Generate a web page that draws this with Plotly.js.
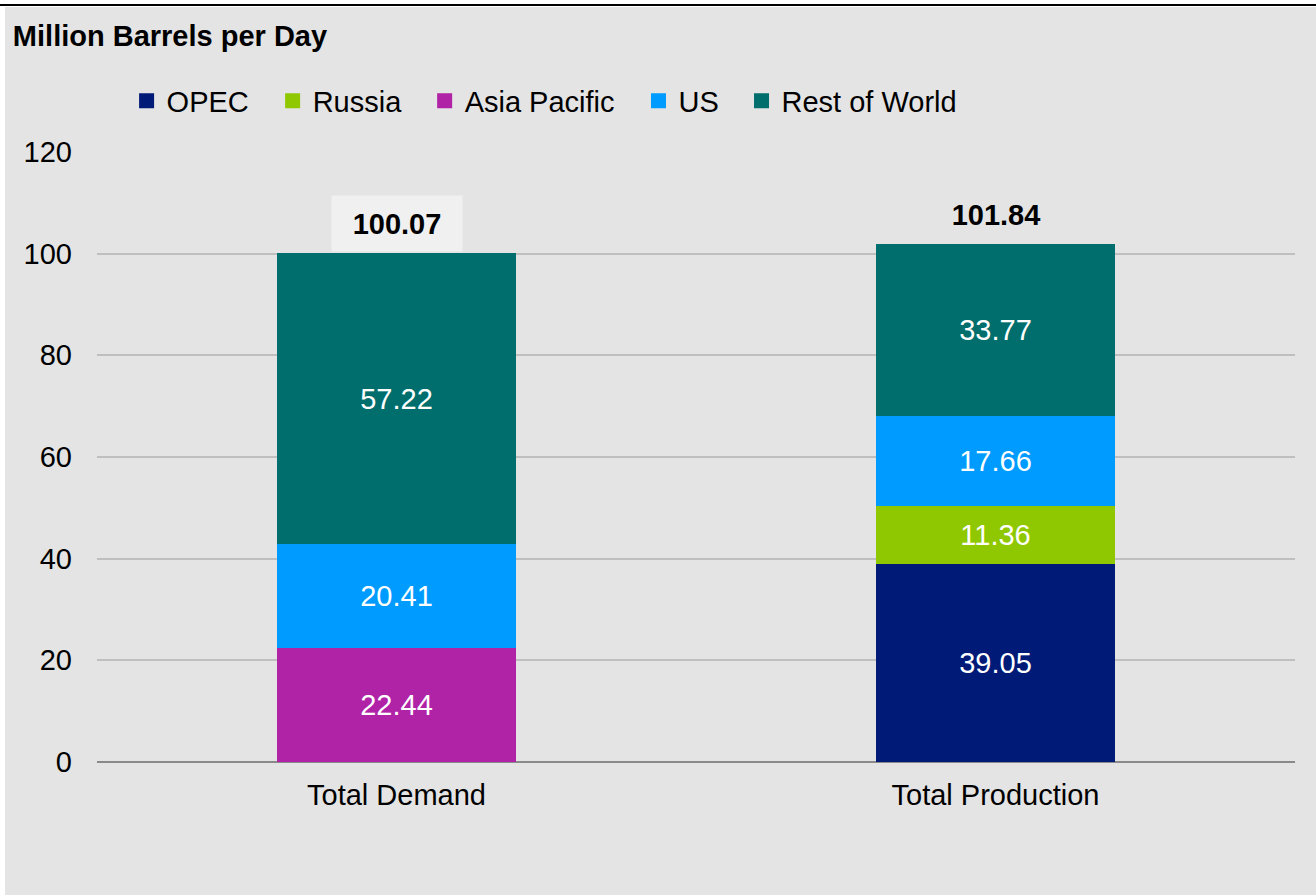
<!DOCTYPE html>
<html>
<head>
<meta charset="utf-8">
<script src="https://cdn.plot.ly/plotly-3.0.1.min.js"></script>
<style>
  html, body { margin: 0; padding: 0; background: #ffffff; width: 1316px; height: 895px; overflow: hidden; }
  #topline { position: absolute; left: 0; top: 4px; width: 1316px; height: 2px; background: #000000; }
  #chart { position: absolute; left: 5px; top: 7px; width: 1311px; height: 888px; }
</style>
</head>
<body>
<div id="topline"></div>
<div id="chart"></div>
<script>
// ---- data ----
const categories = ["Total Demand", "Total Production"];
const opec        = [null, 39.05];
const russia      = [null, 11.36];
const asiaPacific = [22.44, null];
const us          = [20.41, 17.66];
const restOfWorld = [57.22, 33.77];
const seriesNames = ["OPEC", "Russia", "Asia Pacific", "US", "Rest of World"];
const yTickVals   = [0, 20, 40, 60, 80, 100, 120];
const chartTitle  = "Million Barrels per Day";

// ---- styling ----
const FONT = '"Liberation Sans", Arial, sans-serif';
const FS = 29;
const colors = ["#001a78", "#8fc800", "#b022a6", "#009bff", "#006e6c"];
const seriesValues = [opec, russia, asiaPacific, us, restOfWorld];
const legendIds = ["legend", "legend2", "legend3", "legend4", "legend5"];
const legendX = [0.0247, 0.1466, 0.2735, 0.4520, 0.5380];

const barTraces = seriesValues.map((vals, i) => ({
  type: "bar",
  name: seriesNames[i],
  x: categories,
  y: vals,
  width: 0.4,
  marker: { color: colors[i], line: { width: 0 } },
  texttemplate: "%{y:.2f}",
  textposition: "inside",
  insidetextanchor: "middle",
  textangle: 0,
  constraintext: "none",
  textfont: { family: FONT, size: FS, color: "#ffffff" },
  showlegend: false,
  hoverinfo: "skip"
}));

// legend-only entries (square swatches)
const legendTraces = seriesNames.map((name, i) => ({
  type: "scatter",
  mode: "markers",
  name: name,
  x: [null],
  y: [null],
  marker: { symbol: "square", size: 15, color: colors[i], line: { width: 0 } },
  legend: legendIds[i],
  showlegend: true,
  hoverinfo: "skip"
}));

const totals = categories.map((c, k) =>
  seriesValues.reduce((s, arr) => s + (arr[k] || 0), 0));

const annotations = categories.map((c, k) => ({
  x: c, y: totals[k], xref: "x", yref: "y",
  text: totals[k].toFixed(2),
  showarrow: false,
  yanchor: "bottom",
  yshift: 1,
  width: 130, height: 55,
  borderpad: 0,
  bgcolor: k === 0 ? "#f0f0f0" : "rgba(0,0,0,0)",
  font: { family: FONT, size: FS, color: "#000000", weight: "bold" }
}));

const layout = {
  width: 1311, height: 888,
  margin: { l: 92, r: 21, t: 145, b: 133, pad: 0 },
  paper_bgcolor: "#e4e4e4",
  plot_bgcolor: "#e4e4e4",
  barmode: "stack",
  font: { family: FONT, size: FS, color: "#000000" },
  title: {
    text: chartTitle,
    x: 0.006, xanchor: "left", xref: "container",
    y: 0.968, yanchor: "middle", yref: "container",
    font: { family: FONT, size: FS, color: "#000000", weight: "bold" }
  },
  xaxis: {
    type: "category",
    range: [-0.5, 1.5],
    showgrid: false,
    showline: false,
    ticks: "",
    ticklabelstandoff: 13,
    tickfont: { family: FONT, size: FS, color: "#000000" },
    fixedrange: true
  },
  yaxis: {
    range: [0, 120],
    tickvals: yTickVals,
    ticktext: yTickVals.map(String),
    showgrid: true,
    gridcolor: "#bfbfbf",
    gridwidth: 1.7,
    zeroline: true,
    zerolinecolor: "#8a8a8a",
    zerolinewidth: 2.5,
    showline: false,
    ticks: "",
    ticklabelstandoff: 24,
    tickfont: { family: FONT, size: FS, color: "#000000" },
    fixedrange: true
  },
  annotations: annotations,
  showlegend: true
};

legendIds.forEach((id, i) => {
  layout[id] = {
    orientation: "h",
    x: legendX[i], xanchor: "left", xref: "paper",
    y: 1.0836, yanchor: "middle", yref: "paper",
    bgcolor: "rgba(0,0,0,0)",
    borderwidth: 0,
    font: { family: FONT, size: FS, color: "#000000" },
    itemclick: false, itemdoubleclick: false
  };
});

Plotly.newPlot("chart", barTraces.concat(legendTraces), layout, { displayModeBar: false, staticPlot: true });
</script>
</body>
</html>
